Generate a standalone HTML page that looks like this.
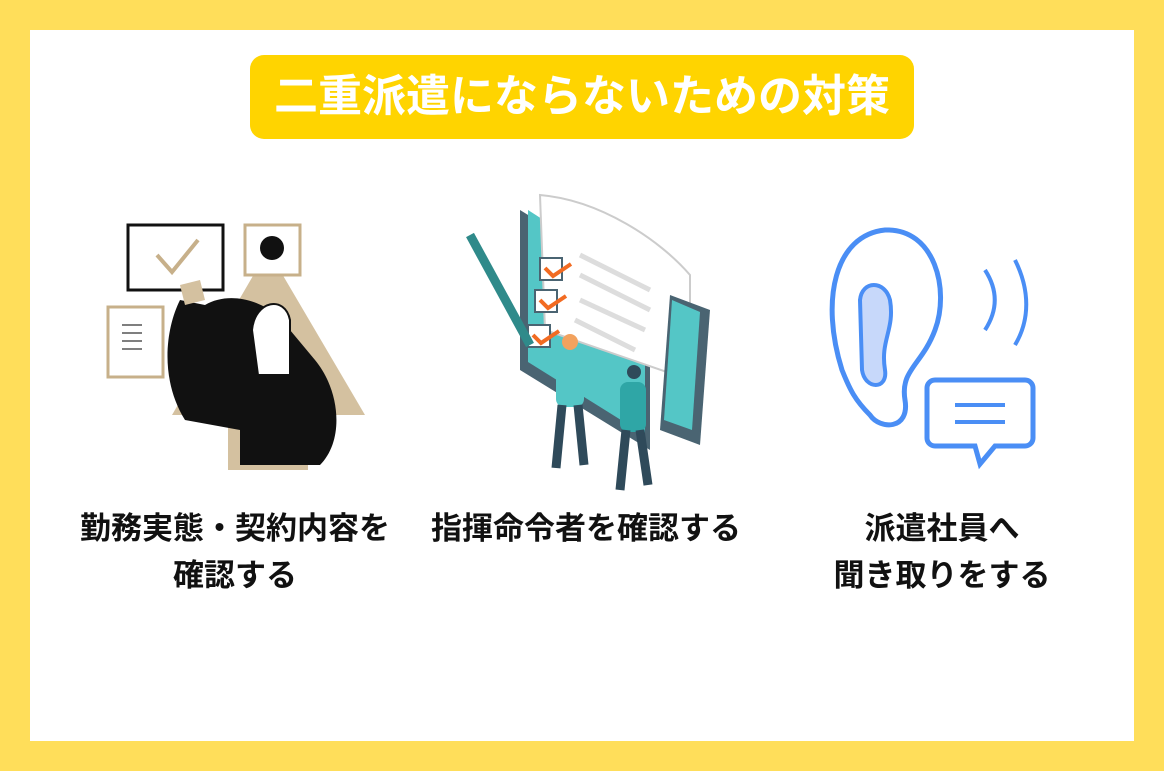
<!DOCTYPE html>
<html><head><meta charset="utf-8"><style>
body{margin:0;width:1164px;height:771px;background:#FFDE5A;position:relative;overflow:hidden;font-family:"Liberation Sans","Noto Sans CJK JP",sans-serif}
.in{position:absolute;left:30px;top:30px;width:1104px;height:711px;background:#fff}
.title{position:absolute;left:250px;top:55px;width:664px;height:84px;background:#FFD400;border-radius:14px;color:#fff;font-weight:700;font-size:44px;line-height:84px;text-align:center;letter-spacing:0px}
.lb{position:absolute;font-weight:700;font-size:31px;color:#111;text-align:center;line-height:47px;white-space:nowrap}
svg{position:absolute;left:0;top:0}
</style></head><body>
<div class="in"></div>
<div class="title">二重派遣にならないための対策</div>
<svg width="1164" height="771">
<polygon points="268,250 365,415 172,415" fill="#D4C1A0"/>
<rect x="228" y="335" width="80" height="135" fill="#D4C1A0"/>
<rect x="128" y="225" width="95" height="65" fill="#fff" stroke="#111" stroke-width="3"/>
<path d="M157,255 L172,272 L198,240" stroke="#C7B08A" stroke-width="4" fill="none"/>
<rect x="245" y="225" width="55" height="50" fill="#fff" stroke="#C7B08A" stroke-width="3"/>
<circle cx="272" cy="248" r="12" fill="#111"/>
<rect x="108" y="307" width="55" height="70" fill="#fff" stroke="#C7B08A" stroke-width="3"/>
<path d="M122,325h20M122,333h20M122,341h20M122,349h20" stroke="#555" stroke-width="1.5"/>
<path d="M180,300 C165,330 160,380 185,420 L240,430 L240,465 L320,465 C345,440 340,390 315,360 L290,330 C270,300 230,290 205,305 Z" fill="#111"/>
<path d="M252,330 C255,300 285,295 290,320 L290,375 L258,375 Z" fill="#fff" stroke="#111" stroke-width="2"/>
<path d="M180,285 L200,280 L205,300 L185,305 Z" fill="#D4C1A0"/>
<polygon points="520,210 650,290 650,450 520,370" fill="#4A6472"/>
<polygon points="528,210 645,285 645,435 528,362" fill="#54C6C6"/>
<path d="M540,195 C600,200 660,240 690,275 L690,380 L545,330 Z" fill="#fff" stroke="#ccc" stroke-width="2"/>
<path d="M580,255l70,35M580,275l70,35M580,300l65,30M575,320l60,30" stroke="#ddd" stroke-width="5"/>
<rect x="540" y="258" width="22" height="22" fill="#fff" stroke="#4A6472" stroke-width="2"/>
<rect x="535" y="290" width="22" height="22" fill="#fff" stroke="#4A6472" stroke-width="2"/>
<rect x="528" y="325" width="22" height="22" fill="#fff" stroke="#4A6472" stroke-width="2"/>
<path d="M545,268l8,8l18,-12M540,300l8,8l18,-12M533,335l8,8l18,-12" stroke="#F26B22" stroke-width="4" fill="none"/>
<path d="M470,235 L530,345" stroke="#2F8A8A" stroke-width="9"/>
<polygon points="670,295 710,310 700,445 660,430" fill="#4A6472"/>
<polygon points="672,300 700,312 692,430 664,420" fill="#54C6C6"/>
<circle cx="570" cy="342" r="8" fill="#F2A25E"/>
<rect x="556" y="352" width="28" height="55" rx="8" fill="#54C6C6"/>
<path d="M562,405 L556,468 M578,405 L584,465" stroke="#2F4A5A" stroke-width="9"/>
<circle cx="634" cy="372" r="7" fill="#2F4A5A"/>
<rect x="620" y="382" width="26" height="50" rx="8" fill="#2FA6A6"/>
<path d="M626,430 L620,490 M640,430 L648,485" stroke="#2F4A5A" stroke-width="9"/>
<path d="M842,370 C820,300 835,235 885,230 C935,228 950,290 935,330 C922,365 900,370 905,400 C910,430 880,430 870,415 C855,400 850,390 842,370 Z" fill="none" stroke="#4A8EF5" stroke-width="5"/>
<path d="M860,300 C862,280 885,280 890,300 C895,330 880,340 885,370 C888,390 865,390 862,370 Z" fill="#C7D8FA" stroke="#4A8EF5" stroke-width="4"/>
<path d="M985,270 C998,290 998,310 985,330" stroke="#4A8EF5" stroke-width="4" fill="none"/>
<path d="M1015,260 C1030,290 1030,320 1015,345" stroke="#4A8EF5" stroke-width="4" fill="none"/>
<path d="M935,380 h90 a8,8 0 0 1 8,8 v50 a8,8 0 0 1 -8,8 h-30 l-15,18 l-5,-18 h-40 a8,8 0 0 1 -8,-8 v-50 a8,8 0 0 1 8,-8 Z" fill="#fff" stroke="#4A8EF5" stroke-width="5"/>
<path d="M955,405h50M955,422h50" stroke="#4A8EF5" stroke-width="4"/>
</svg>
<div class="lb" style="left:55px;top:505px;width:360px">勤務実態・契約内容を<br>確認する</div>
<div class="lb" style="left:406px;top:505px;width:360px">指揮命令者を確認する</div>
<div class="lb" style="left:762px;top:505px;width:360px">派遣社員へ<br>聞き取りをする</div>
</body></html>
